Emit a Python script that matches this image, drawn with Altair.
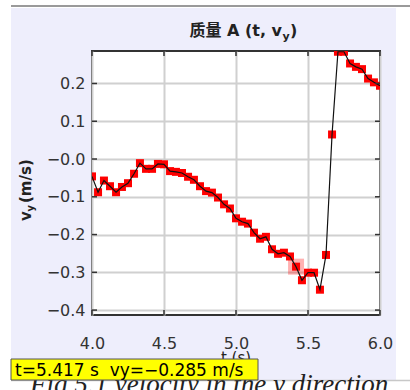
import altair as alt
import pandas as pd

# Sampled vertical velocity of mass A (24 samples per second)
t_s = [4.000, 4.042, 4.083, 4.125, 4.167, 4.208, 4.250, 4.292, 4.333, 4.375,
       4.417, 4.458, 4.500, 4.542, 4.583, 4.625, 4.667, 4.708, 4.750, 4.792,
       4.833, 4.875, 4.917, 4.958, 5.000, 5.042, 5.083, 5.125, 5.167, 5.208,
       5.250, 5.292, 5.333, 5.375, 5.417, 5.458, 5.500, 5.542, 5.583, 5.625,
       5.667, 5.708, 5.750, 5.792, 5.833, 5.875, 5.917, 5.958, 6.000]
vy = [-0.046, -0.088, -0.057, -0.072, -0.088, -0.074, -0.064, -0.039, -0.011, -0.026,
      -0.026, -0.013, -0.014, -0.032, -0.034, -0.037, -0.047, -0.055, -0.072, -0.085,
      -0.089, -0.102, -0.120, -0.131, -0.157, -0.166, -0.171, -0.195, -0.211, -0.206,
      -0.239, -0.251, -0.248, -0.258, -0.285, -0.321, -0.301, -0.301, -0.346, -0.254,
      0.065, 0.284, 0.284, 0.253, 0.244, 0.238, 0.213, 0.203, 0.194]

x_ticks = [4.0, 4.5, 5.0, 5.5, 6.0]
y_ticks = [-0.4, -0.3, -0.2, -0.1, 0.0, 0.1, 0.2]

sel_t = [5.417]
sel_vy = [-0.285]

W, H = 288, 264
SANS = "DejaVu Sans"
TITLE_FONT = "DejaVu Sans, Noto Sans CJK SC"

df = pd.DataFrame({"t": t_s, "vy": vy})
sel = pd.DataFrame({"t": sel_t, "vy": sel_vy})
xt = pd.DataFrame({"t": x_ticks})
yt = pd.DataFrame({"vy": y_ticks})
one = pd.DataFrame({"k": [0]})

xs = alt.Scale(domain=[4.0, 6.0], nice=False, zero=False)
ys = alt.Scale(domain=[-0.413, 0.286], nice=False, zero=False)

x_axis = alt.Axis(values=x_ticks, format=".1f", labelFont=SANS, labelFontSize=16,
                  labelColor="#333", labelPadding=20, labelFlush=False, tickSize=0,
                  domain=False, grid=True, gridColor="#d0d0d0", gridWidth=2, title=None)
y_axis = alt.Axis(values=y_ticks, labelFont=SANS, labelFontSize=16, labelColor="#333",
                  labelPadding=7, labelFlush=False, tickSize=0, domain=False, grid=True,
                  gridColor="#d0d0d0", gridWidth=2, title=None,
                  labelExpr="datum.value < 0.00001 ? '\u2212' + format(abs(datum.value), '.1f') : format(datum.value, '.1f')")

X = alt.X("t:Q", scale=xs, axis=x_axis)
Y = alt.Y("vy:Q", scale=ys, axis=y_axis)

# data: squares, highlighted sample, connecting line
points = alt.Chart(df).mark_square(size=64, color="#ff0000", opacity=1, clip=True).encode(x=X, y=Y)
highlight = alt.Chart(sel).mark_square(size=256, color="#ff0000", opacity=0.3, clip=True).encode(x=X, y=Y)
line = alt.Chart(df).mark_line(color="#111", strokeWidth=1.2, clip=True).encode(x=X, y=Y)

# inward ticks on all four sides
tick_style = dict(color="#333", strokeWidth=1.5)
xt_top = alt.Chart(xt).mark_rule(**tick_style).encode(x=X, y=alt.value(0), y2=alt.value(5))
xt_bot = alt.Chart(xt).mark_rule(**tick_style).encode(x=X, y=alt.value(H - 5), y2=alt.value(H))
yt_left = alt.Chart(yt).mark_rule(**tick_style).encode(y=Y, x=alt.value(0), x2=alt.value(5))
yt_right = alt.Chart(yt).mark_rule(**tick_style).encode(y=Y, x=alt.value(W - 5), x2=alt.value(W))


# white margins around the lavender panel
def strip(x0, x1, y0, y1, color="white"):
    return alt.Chart(one).mark_rect(color=color).encode(
        x=alt.value(x0), x2=alt.value(x1), y=alt.value(y0), y2=alt.value(y1))


strips = [
    strip(-92, -81, -51, 339),
    strip(-92, 318, -51, -43),
    strip(-92, 318, 329, 339),
    strip(304, 318, -51, 339),
]
top_line = alt.Chart(one).mark_rule(color="#9a9a9a", strokeWidth=2).encode(
    x=alt.value(-81), x2=alt.value(318), y=alt.value(-45))
bottom_line = alt.Chart(one).mark_rule(color="#c8c8c8", strokeWidth=1.5).encode(
    x=alt.value(-81), x2=alt.value(318), y=alt.value(329.5))


def label(text, x, y, size, weight="normal", align="left", angle=0, font=SANS,
          color="#222", style="normal"):
    kw = dict(align=align, baseline="alphabetic", fontSize=size, fontWeight=weight,
              font=font, color=color, fontStyle=style)
    if angle:
        kw["angle"] = angle
    return alt.Chart(one).mark_text(text=text, **kw).encode(x=alt.value(x), y=alt.value(y))


# title: 质量 A (t, v_y)
title_main = label("质量 A (t, v", 190, -15, 16, "bold", "right", font=TITLE_FONT)
title_sub = label("y", 190.5, -11.5, 11, "bold")
title_end = label(")", 198, -15, 16, "bold")

# y axis title: v_y (m/s), rotated
ytitle_v = label("v", -61, 170, 15, "bold", angle=270)
ytitle_sub = label("y", -58, 160.5, 10, "bold", angle=270)
ytitle_unit = label("(m/s)", -61, 152, 15, "bold", angle=270)

xtitle = label("t (s)", W / 2, 312, 15, align="center")

caption = label("Fig 5.1  velocity in the y direction", -62, 342, 27,
                font="Liberation Serif", style="italic", color="#222")

tip_box = alt.Chart(one).mark_rect(color="#ffff00", stroke="#555", strokeWidth=1).encode(
    x=alt.value(-81), x2=alt.value(166), y=alt.value(308), y2=alt.value(329))
tip_text = label("t=5.417 s\u00a0\u00a0vy=\u22120.285 m/s", -77, 325, 17, color="#000")

chart = alt.layer(
    points, highlight, line,
    xt_top, xt_bot, yt_left, yt_right,
    *strips, top_line, bottom_line,
    title_main, title_sub, title_end,
    ytitle_v, ytitle_sub, ytitle_unit,
    xtitle, caption, tip_box, tip_text,
).properties(
    width=W, height=H,
    autosize=alt.AutoSizeParams(type="none"),
    padding={"left": 92, "top": 51, "right": 30, "bottom": 75},
    background="#eeeefc",
).configure_view(
    fill="white", stroke="#333", strokeWidth=2,
)

chart.save("out.html", embed_options={"renderer": "svg", "actions": False})
